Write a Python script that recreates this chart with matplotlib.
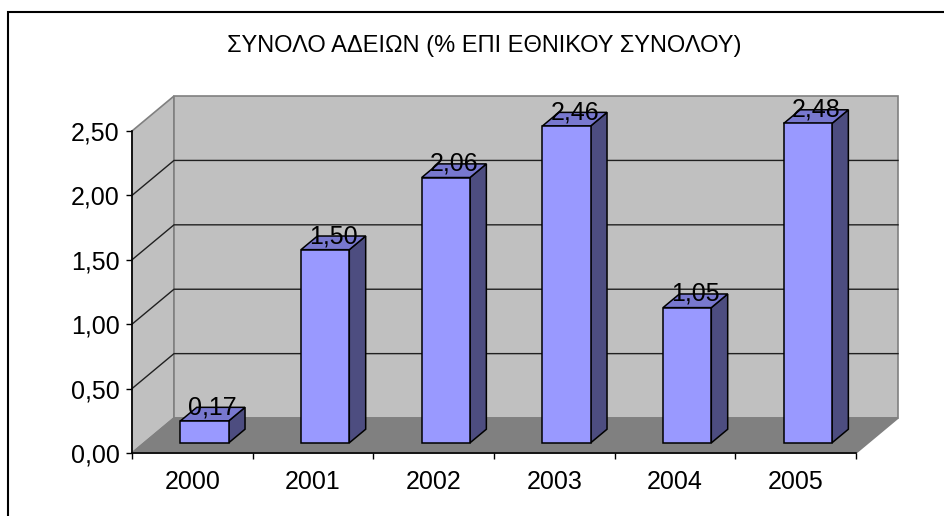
import matplotlib
matplotlib.use('Agg')
import matplotlib.pyplot as plt
from matplotlib.patches import Polygon, Rectangle
from matplotlib.ticker import FuncFormatter

plt.rcParams['font.family'] = ['Liberation Sans', 'DejaVu Sans']

# data
years = ['2000', '2001', '2002', '2003', '2004', '2005']
values = [0.17, 1.50, 2.06, 2.46, 1.05, 2.48]
labels = ['0,17', '1,50', '2,06', '2,46', '1,05', '2,48']
yticks = [0.0, 0.5, 1.0, 1.5, 2.0, 2.5]
title = 'ΣΥΝΟΛΟ ΑΔΕΙΩΝ (% ΕΠΙ ΕΘΝΙΚΟΥ ΣΥΝΟΛΟΥ)'

# oblique projection: full depth shifts by (DX, DY) in data units
DX, DY = 0.348, 0.2715
bar_w = 0.40
d0, d1 = 0.29, 0.68   # bar depth range
ymax = 2.5
n = len(years)


def proj(x, y, d):
    return (x + d * DX, y + d * DY)


fig = plt.figure(figsize=(9.44, 5.16), dpi=100)
ax = fig.add_axes([132 / 944, 63 / 516, 724 / 944, 322 / 516])
ax.set_xlim(0, n)
ax.set_ylim(0, ymax)
ax.set_facecolor('none')

wall = '#C0C0C0'
edge = '#808080'

# left wall
ax.add_patch(Polygon([proj(0, 0, 0), proj(0, ymax, 0), proj(0, ymax, 1), proj(0, 0, 1)],
                     closed=True, fc=wall, ec=edge, lw=1.2, clip_on=False, zorder=1))
# back wall
ax.add_patch(Polygon([proj(0, 0, 1), proj(n, 0, 1), proj(n, ymax, 1), proj(0, ymax, 1)],
                     closed=True, fc=wall, ec=edge, lw=1.2, clip_on=False, zorder=1))
# floor
ax.add_patch(Polygon([proj(0, 0, 0), proj(n, 0, 0), proj(n, 0, 1), proj(0, 0, 1)],
                     closed=True, fc='#808080', ec=edge, lw=1.2, clip_on=False, zorder=1))

# gridlines
for v in yticks[1:-1]:
    xs, ys = zip(proj(0, v, 0), proj(0, v, 1), proj(n, v, 1))
    ax.plot(xs, ys, color='#202020', lw=1.0, clip_on=False, zorder=2)

# bars
for i, (v, lab) in enumerate(zip(values, labels)):
    xl = i + 0.5 - bar_w / 2
    xr = i + 0.5 + bar_w / 2
    front = [proj(xl, 0, d0), proj(xr, 0, d0), proj(xr, v, d0), proj(xl, v, d0)]
    top = [proj(xl, v, d0), proj(xr, v, d0), proj(xr, v, d1), proj(xl, v, d1)]
    side = [proj(xr, 0, d0), proj(xr, 0, d1), proj(xr, v, d1), proj(xr, v, d0)]
    ax.add_patch(Polygon(side, closed=True, fc='#4D4D80', ec='black', lw=1.1,
                         clip_on=False, zorder=3))
    ax.add_patch(Polygon(top, closed=True, fc='#7878CF', ec='black', lw=1.1,
                         clip_on=False, zorder=3))
    ax.add_patch(Polygon(front, closed=True, fc='#9999FF', ec='black', lw=1.1,
                         clip_on=False, zorder=3))
    lx, ly = proj(i + 0.5, v, (d0 + d1) / 2)
    ax.text(lx, proj(0, v, d1)[1], lab, ha='center', va='center', fontsize=18,
            zorder=4, clip_on=False)

# axes
for s in ['top', 'right']:
    ax.spines[s].set_visible(False)
for s in ['left', 'bottom']:
    ax.spines[s].set_color('black')
    ax.spines[s].set_linewidth(1.2)
    ax.spines[s].set_zorder(5)

ax.set_yticks(yticks)
ax.yaxis.set_major_formatter(FuncFormatter(lambda v, p: f'{v:.2f}'.replace('.', ',')))
ax.tick_params(axis='y', length=4, width=1, direction='out', pad=5, labelsize=18)

ax.set_xticks(range(n + 1))
ax.set_xticklabels([])
ax.set_xticks([i + 0.5 for i in range(n)], minor=True)
ax.set_xticklabels(years, minor=True)
ax.tick_params(axis='x', which='major', length=4, width=1, direction='out')
ax.tick_params(axis='x', which='minor', length=0, pad=12, labelsize=18)

fig.text(484 / 944, 1 - 46 / 516, title, ha='center', va='center', fontsize=17)

# chart border (runs off the right and bottom edge)
fig.add_artist(Rectangle((7.5 / 944, -0.2), 1.2, 1.2 - 11.5 / 516, transform=fig.transFigure,
                         fill=False, ec='black', lw=1.5, clip_on=False))

fig.savefig('out.png', dpi=100)
